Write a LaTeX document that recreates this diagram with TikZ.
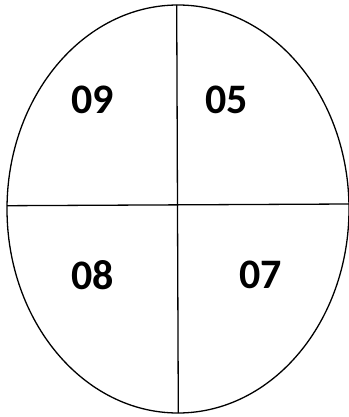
\documentclass[tikz,border=0pt]{standalone}
\usepackage{fontspec}
\setmainfont{Carlito}
\usetikzlibrary{positioning}
\tikzset{
  outline/.style={draw=black, line width=1.3pt},
  divider/.style={draw=black, line width=1.3pt},
  quadlabel/.style={font=\fontsize{42}{42}\selectfont\bfseries, inner sep=0pt}
}

\begin{document}
\begin{tikzpicture}[x=1pt, y=-1pt]
  \useasboundingbox (0,0) rectangle (348,417);
  % Outer ellipse
  \draw[outline] (178,209) ellipse [x radius=171, y radius=204];
  % Dividing lines
  \coordinate (top) at (176.7,5);
  \coordinate (bottom) at (178.3,413);
  \coordinate (left) at (7,205.7);
  \coordinate (right) at (349,204);
  \draw[divider] (top) -- (bottom);
  \draw[divider] (left) -- (right);
  % Quadrant labels
  \node[quadlabel] (q09) at (92.5,100) {09};
  \node[quadlabel] (q05) at (226.7,100) {05};
  \node[quadlabel] (q08) at (92.5,275) {08};
  \node[quadlabel] (q07) at (260.8,275) {07};
\end{tikzpicture}
\end{document}
